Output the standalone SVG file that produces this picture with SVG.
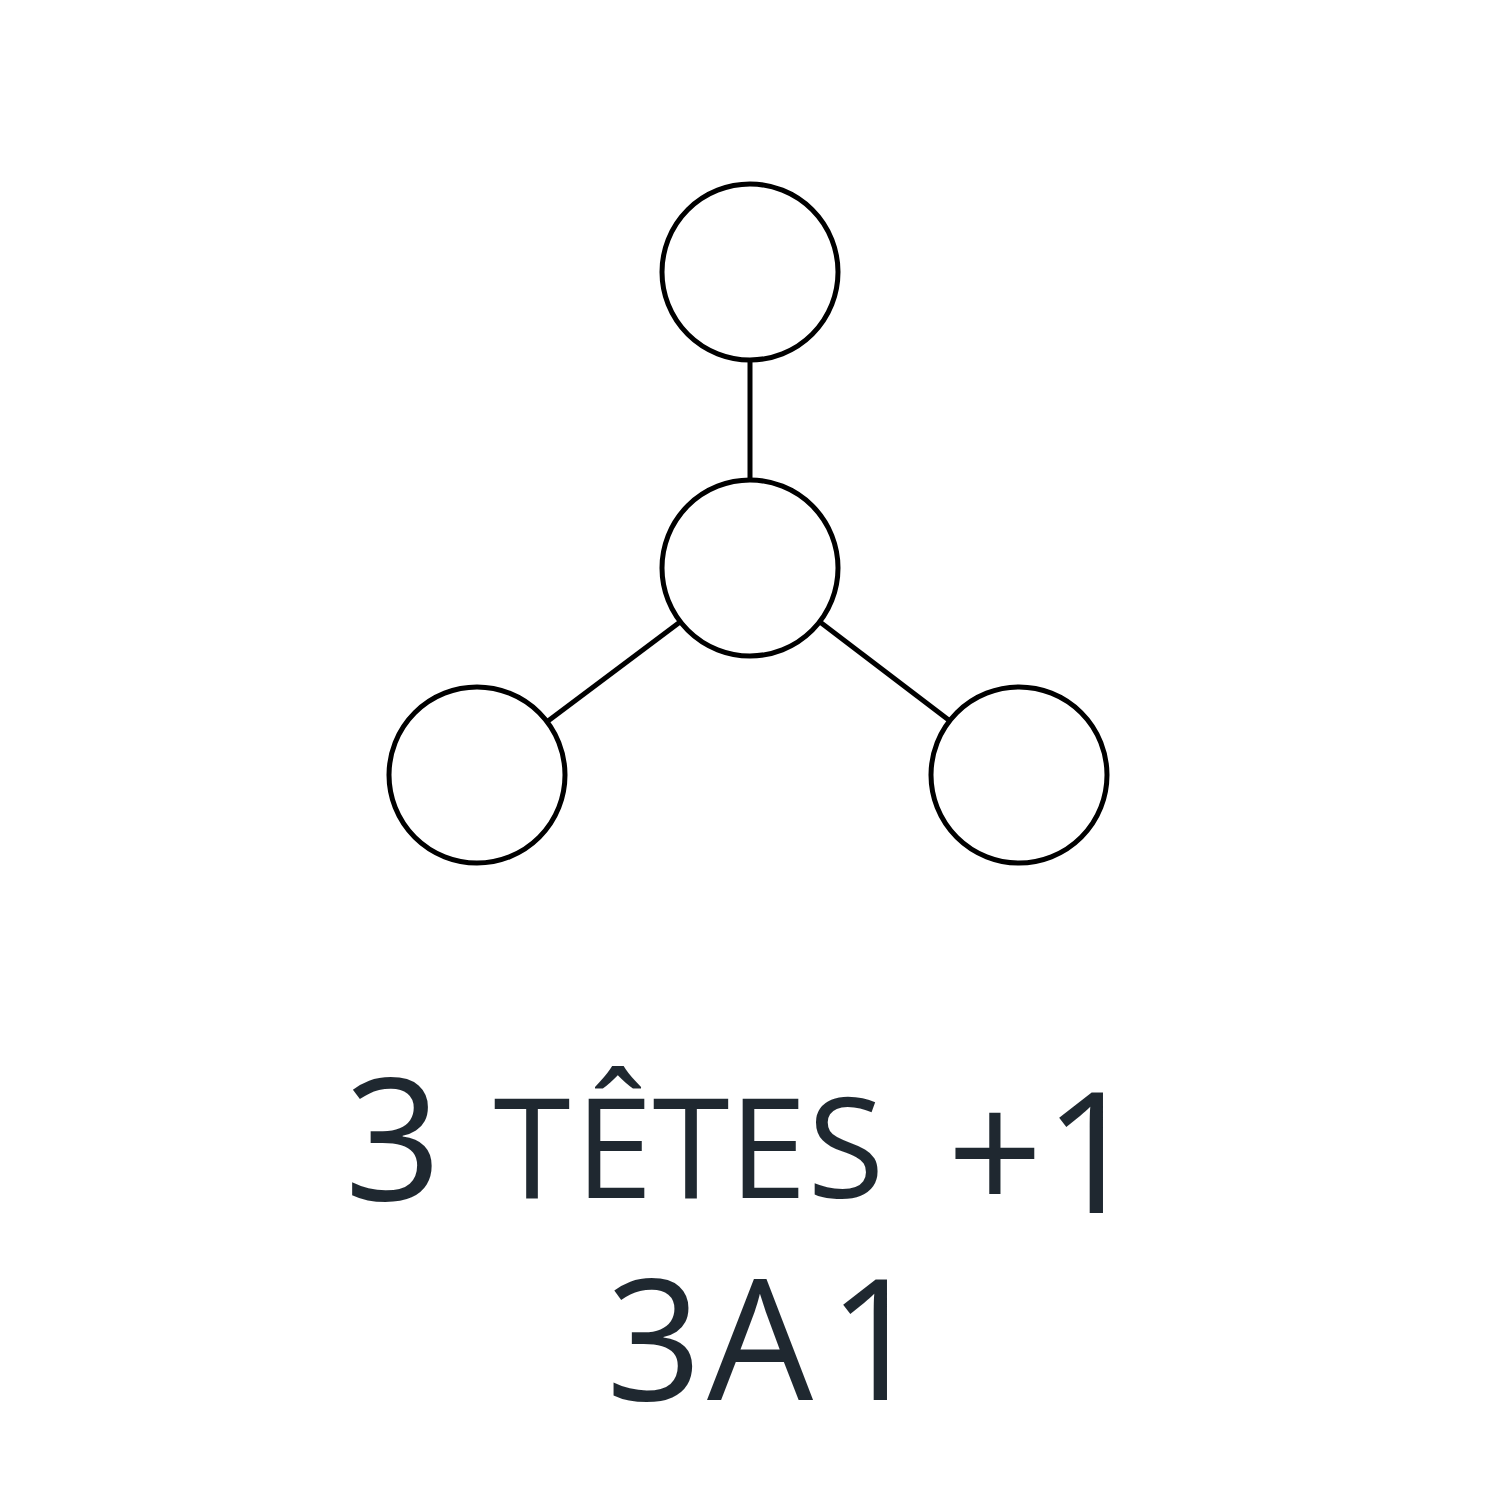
<svg xmlns="http://www.w3.org/2000/svg" width="1500" height="1500" viewBox="0 0 1500 1500">
<style>
.node{fill:#fff;stroke:#000;stroke-width:5}
.edge{stroke:#000;stroke-width:5;fill:none}
.t{font-family:"Open Sans","DejaVu Sans",sans-serif;fill:#1f2830;text-anchor:middle}
</style>
<rect width="1500" height="1500" fill="#fff"/>
<g id="connectors">
<line class="edge" x1="750" y1="360" x2="750" y2="480"/>
<line class="edge" x1="680" y1="622" x2="548" y2="721"/>
<line class="edge" x1="820" y1="622" x2="950" y2="721"/>
</g>
<g id="node-top"><circle class="node" cx="750" cy="272" r="88"/></g>
<g id="node-center"><circle class="node" cx="750" cy="568" r="88"/></g>
<g id="node-left"><circle class="node" cx="477" cy="775" r="88"/></g>
<g id="node-right"><circle class="node" cx="1019" cy="775" r="88"/></g>
<g id="label">
<text class="t" font-size="170" x="393" y="1200">3</text>
<text class="t" font-size="140" y="1198"><tspan x="532">T</tspan><tspan x="614">Ê</tspan><tspan x="691">T</tspan><tspan x="768">E</tspan><tspan x="846">S</tspan></text>
<text class="t" font-size="168" y="1213"><tspan x="995">+</tspan><tspan x="1092">1</tspan></text>
<text class="t" font-size="168" y="1400"><tspan x="654">3</tspan><tspan x="760">A</tspan><tspan x="876">1</tspan></text>
</g>
</svg>
